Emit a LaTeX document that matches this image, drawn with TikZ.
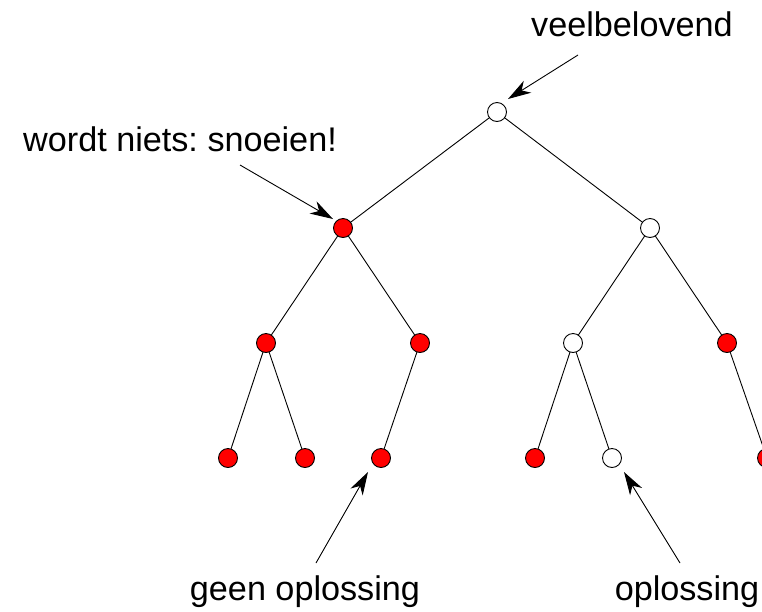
\documentclass[tikz,border=0pt]{standalone}
\usepackage{fontspec}
\setmainfont{Liberation Sans}
\usetikzlibrary{arrows.meta}
\begin{document}
\frenchspacing
\begin{tikzpicture}[x=1pt,y=-1pt,
  nd/.style={circle,draw=black,line width=0.9pt,minimum size=19pt,inner sep=0pt},
  red/.style={nd,fill=red},
  wht/.style={nd,fill=white},
  edge/.style={line width=0.9pt},
  pointer/.style={line width=0.9pt,-{Stealth[length=23pt,width=14pt,inset=7pt]}},
  lbl/.style={anchor=base,inner sep=0pt,font=\fontsize{34.2}{40}\selectfont}]
\useasboundingbox (0,0) rectangle (762,611);
\coordinate (r) at (497,112);
\coordinate (a) at (343,228);
\coordinate (b) at (650,228);
\coordinate (aa) at (266,343);
\coordinate (ab) at (420,343);
\coordinate (ba) at (573,343);
\coordinate (bb) at (727,343);
\coordinate (aaa) at (228,458);
\coordinate (aab) at (305,458);
\coordinate (aba) at (381,458);
\coordinate (baa) at (535,458);
\coordinate (bab) at (612,458);
\coordinate (bba) at (767,458);
\draw[edge] (r)--(a) (r)--(b) (a)--(aa) (a)--(ab) (b)--(ba) (b)--(bb)
  (aa)--(aaa) (aa)--(aab) (ab)--(aba) (ba)--(baa) (ba)--(bab) (bb)--(bba);
\node[wht] (nr) at (r) {};
\node[red] (na) at (a) {};
\node[wht] (nb) at (b) {};
\node[red] (naa) at (aa) {};
\node[red] (nab) at (ab) {};
\node[wht] (nba) at (ba) {};
\node[red] (nbb) at (bb) {};
\node[red] (naaa) at (aaa) {};
\node[red] (naab) at (aab) {};
\node[red] (naba) at (aba) {};
\node[red] (nbaa) at (baa) {};
\node[wht] (nbab) at (bab) {};
\node[red] (nbba) at (bba) {};
\node[lbl] (t1) at (632,36) {veelbelovend};
\node[lbl] (t2) at (180,151) {wordt niets: snoeien!};
\node[lbl] (t3) at (305,600) {geen oplossing};
\node[lbl] (t4) at (687,600) {oplossing};
\coordinate (p1) at (578,55);
\coordinate (p2) at (240,165);
\coordinate (p3) at (316,563);
\coordinate (p4) at (680,563);
\draw[pointer] (p1) -- (508,99);
\draw[pointer] (p2) -- (333,219);
\draw[pointer] (p3) -- (368,472);
\draw[pointer] (p4) -- (624,472);
\end{tikzpicture}
\end{document}
